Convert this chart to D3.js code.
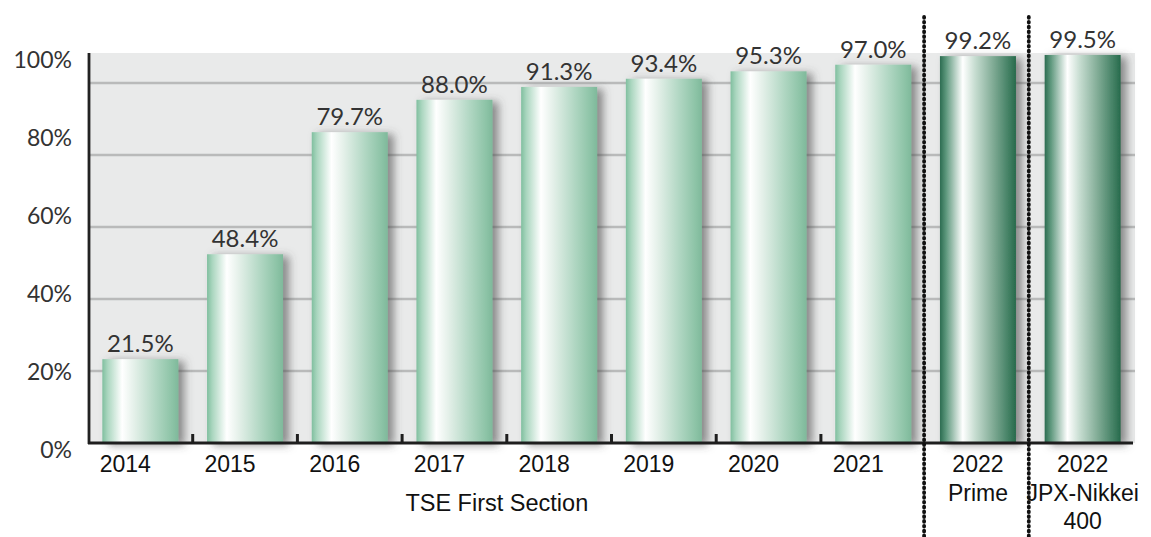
<!DOCTYPE html>
<html>
<head>
<meta charset="utf-8">
<script src="https://cdn.jsdelivr.net/npm/d3@7"></script>
<style>
  html, body { margin: 0; padding: 0; background: #ffffff; }
  svg { display: block; }
</style>
</head>
<body>
<svg id="chart" width="1151" height="537"></svg>
<script>
// ---- data ----
const categories = ["2014", "2015", "2016", "2017", "2018", "2019", "2020", "2021", "2022 Prime", "2022 JPX-Nikkei 400"];
const categoryLabels = [["2014"], ["2015"], ["2016"], ["2017"], ["2018"], ["2019"], ["2020"], ["2021"],
                        ["2022", "Prime"], ["2022", "JPX-Nikkei", "400"]];
const values = [21.5, 48.4, 79.7, 88.0, 91.3, 93.4, 95.3, 97.0, 99.2, 99.5];
const highlighted = [false, false, false, false, false, false, false, false, true, true];
const yTicks = [0, 20, 40, 60, 80, 100];
const gridTicks = [20, 40, 60, 80, 100];
const groupLabel = "TSE First Section";
const groupSize = 8; // first eight columns belong to the TSE First Section

// ---- layout ----
const svg = d3.select("#chart");
const plotLeft = 88, plotRight = 1135, plotBase = 443, plotTop = 53;

const x = d3.scaleBand()
  .domain(categories)
  .range([plotLeft, plotRight])
  .paddingInner(0.274)
  .paddingOuter(0.137);

const y = d3.scaleLinear().domain([0, 100]).range([plotBase, plotTop]);
// horizontal guide lines use their own spacing
const gridY = d3.scaleLinear().domain([0, 100]).range([plotBase, 83]);

const defs = svg.append("defs");

function barGradient(id, stops) {
  const g = defs.append("linearGradient").attr("id", id)
    .attr("x1", "0%").attr("x2", "100%").attr("y1", "0%").attr("y2", "0%");
  stops.forEach(([o, c]) => g.append("stop").attr("offset", o).attr("stop-color", c));
}
barGradient("barLight", [
  ["0%", "#80bf9f"], ["7%", "#aad6bf"], ["26%", "#ffffff"], ["42%", "#e4f0e9"],
  ["70%", "#b1d7c3"], ["92%", "#8cc3a6"], ["100%", "#7fb99b"]
]);
barGradient("barDark", [
  ["0%", "#2c6c50"], ["8%", "#5d977c"], ["30%", "#ffffff"], ["46%", "#c7ddd1"],
  ["70%", "#80ab95"], ["92%", "#3e7d60"], ["100%", "#276a4c"]
]);

const shadow = defs.append("filter").attr("id", "barShadow")
  .attr("x", "-20%").attr("y", "-10%").attr("width", "150%").attr("height", "130%");
shadow.append("feDropShadow")
  .attr("dx", 6).attr("dy", 2).attr("stdDeviation", 4)
  .attr("flood-color", "#4a4a4a").attr("flood-opacity", 0.6);

// plot background
svg.append("rect")
  .attr("x", plotLeft).attr("y", y(100))
  .attr("width", plotRight - plotLeft).attr("height", plotBase - y(100))
  .attr("fill", "#e9eaea");

// grid lines
svg.append("g").selectAll("line").data(gridTicks).join("line")
  .attr("x1", plotLeft).attr("x2", plotRight)
  .attr("y1", d => gridY(d)).attr("y2", d => gridY(d))
  .attr("stroke", "#b9baba").attr("stroke-width", 2.5);

// bars
svg.append("g").selectAll("rect").data(values).join("rect")
  .attr("x", (d, i) => x(categories[i]))
  .attr("y", d => y(d))
  .attr("width", x.bandwidth())
  .attr("height", d => plotBase - y(d))
  .attr("fill", (d, i) => highlighted[i] ? "url(#barDark)" : "url(#barLight)")
  .attr("filter", "url(#barShadow)");

// value labels
svg.append("g").selectAll("text").data(values).join("text")
  .attr("x", (d, i) => x(categories[i]) + x.bandwidth() / 2)
  .attr("y", d => y(d) - 7)
  .attr("text-anchor", "middle")
  .attr("font-family", "Lato, 'Open Sans', sans-serif")
  .attr("font-size", 24)
  .attr("fill", "#333333")
  .text(d => d.toFixed(1) + "%");

// y axis line and tick labels
svg.append("line")
  .attr("x1", 89).attr("x2", 89).attr("y1", y(100)).attr("y2", plotBase + 1)
  .attr("stroke", "#222").attr("stroke-width", 2.8);

svg.append("g").selectAll("text").data(yTicks).join("text")
  .attr("x", 72)
  .attr("y", d => y(d) + 6)
  .attr("dominant-baseline", "central")
  .attr("text-anchor", "end")
  .attr("font-family", "Lato, 'Open Sans', sans-serif")
  .attr("font-size", 23)
  .attr("fill", "#333333")
  .text(d => d + "%");

// x axis baseline with small ticks between the TSE columns
const step = x.step();
svg.append("line")
  .attr("x1", plotLeft).attr("x2", plotRight - 2).attr("y1", plotBase).attr("y2", plotBase)
  .attr("stroke", "#1e1e1e").attr("stroke-width", 3);

const boundaries = d3.range(1, categories.length).map(i => plotLeft + i * step);
svg.append("g").selectAll("line").data(boundaries.slice(0, groupSize - 1)).join("line")
  .attr("x1", d => d).attr("x2", d => d)
  .attr("y1", plotBase - 9).attr("y2", plotBase)
  .attr("stroke", "#1e1e1e").attr("stroke-width", 3);

// dotted separators around the 2022 columns
svg.append("g").selectAll("line").data(boundaries.slice(groupSize - 1)).join("line")
  .attr("x1", d => d - 1.5).attr("x2", d => d - 1.5)
  .attr("y1", 17).attr("y2", 537)
  .attr("stroke", "#111").attr("stroke-width", 3.8)
  .attr("stroke-linecap", "round")
  .attr("stroke-dasharray", "0.8,4");

// category labels
const catG = svg.append("g")
  .attr("font-family", "'Liberation Sans', Arial, sans-serif")
  .attr("font-size", 23)
  .attr("fill", "#111")
  .attr("text-anchor", "middle");

categoryLabels.forEach((lines, i) => {
  const cx = x(categories[i]) + x.bandwidth() / 2 + (i < groupSize ? -15 : 0);
  const t = catG.append("text").attr("x", cx).attr("y", 472);
  lines.forEach((s, j) => {
    t.append("tspan").attr("x", cx).attr("dy", j === 0 ? 0 : 28.5).text(s);
  });
});

// group label under the TSE columns
svg.append("text")
  .attr("x", plotLeft + (groupSize * step) / 2 - 10)
  .attr("y", 511)
  .attr("text-anchor", "middle")
  .attr("font-family", "'Liberation Sans', Arial, sans-serif")
  .attr("font-size", 23.5)
  .attr("fill", "#111")
  .text(groupLabel);
</script>
</body>
</html>
